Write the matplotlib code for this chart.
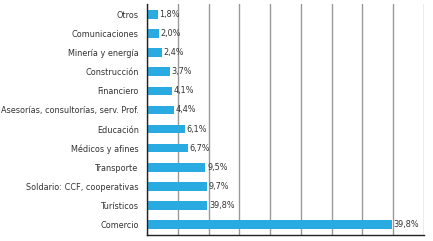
import matplotlib
matplotlib.use("Agg")
import matplotlib.pyplot as plt
from matplotlib import font_manager

cond = [f for f in font_manager.fontManager.ttflist if str(f.stretch) in ("condensed", "semi-condensed", "extra-condensed") or "Narrow" in f.name or "Condensed" in f.name]
if any("Liberation Sans Narrow" == f.name for f in cond):
    plt.rcParams['font.family'] = ['Liberation Sans Narrow', 'DejaVu Sans']
    FS = 7.0
    STRETCH = 'normal'
elif any(f.name == "DejaVu Sans" for f in cond):
    plt.rcParams['font.family'] = ['DejaVu Sans']
    FS = 6.5
    STRETCH = 'condensed'
else:
    plt.rcParams['font.family'] = ['Liberation Sans', 'DejaVu Sans']
    FS = 6.0
    STRETCH = 'normal'
plt.rcParams['font.stretch'] = STRETCH

categories = ["Otros", "Comunicaciones", "Minería y energía", "Construcción", "Financiero",
              "Asesorías, consultorías, serv. Prof.", "Educación", "Médicos y afines",
              "Transporte", "Soldario: CCF, cooperativas", "Turísticos", "Comercio"]
values = [1.8, 2.0, 2.4, 3.7, 4.1, 4.4, 6.1, 6.7, 9.5, 9.7, 9.8, 39.8]
value_labels = ["1,8%", "2,0%", "2,4%", "3,7%", "4,1%", "4,4%", "6,1%", "6,7%",
                "9,5%", "9,7%", "39,8%", "39,8%"]
xticks = [0, 5, 10, 15, 20, 25, 30, 35, 40, 45]

fig = plt.figure(figsize=(4.33, 2.41), dpi=100)
ax = fig.add_axes([147/433, 1-235/241, (424-147)/433, (235-4)/241])

y = list(range(len(categories)))
ax.barh(y, values, height=0.45, color="#29ABE2", zorder=3)
for yi, v, lab in zip(y, values, value_labels):
    ax.text(v + 0.25, yi, lab, va="center", ha="left", fontsize=FS, color="#333333", zorder=4)

ax.set_yticks(y)
ax.set_yticklabels(categories, fontsize=FS, color="#333333")
ax.set_ylim(len(categories) - 0.45, -0.55)
ax.set_xlim(0, 45)
ax.set_xticks(xticks)
ax.tick_params(axis="x", length=0, labelbottom=False)
ax.tick_params(axis="y", length=0, pad=6)
ax.grid(axis="x", color="#999999", linewidth=1, zorder=0)
for s in ["top", "right"]:
    ax.spines[s].set_visible(False)
for s in ["left", "bottom"]:
    ax.spines[s].set_color("#222222")
    ax.spines[s].set_linewidth(1)
    ax.spines[s].set_zorder(5)

fig.savefig("out.png", dpi=100)
